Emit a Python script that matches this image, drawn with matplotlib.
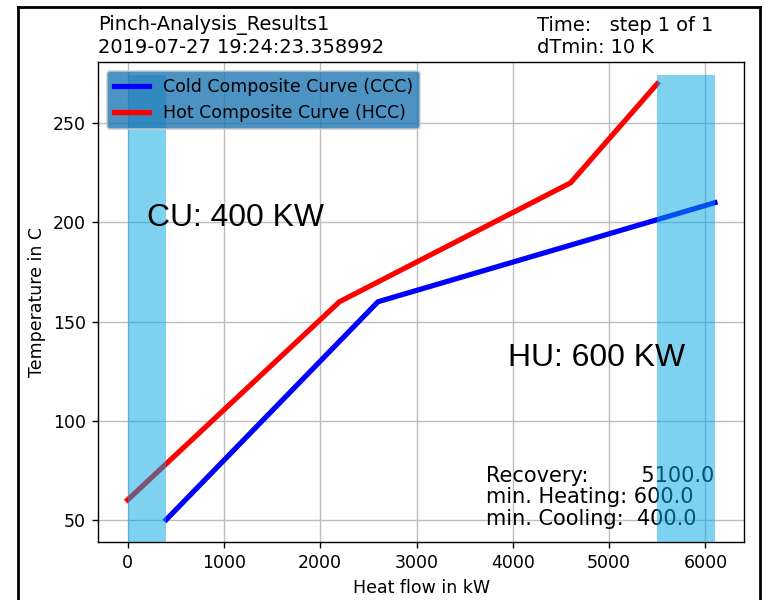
import matplotlib
matplotlib.use("Agg")
import matplotlib.pyplot as plt
from matplotlib.lines import Line2D

# composite curves (heat flow in kW, temperature in C)
cold_q = [400, 2600, 6100]
cold_t = [50, 160, 210]
hot_q = [0, 2200, 4600, 5500]
hot_t = [60, 160, 220, 270]

cu = 400        # min. cooling
hu = 600        # min. heating
recovery = 5100

title_left = "Pinch-Analysis_Results1\n2019-07-27 19:24:23.358992"
title_right = "Time:   step 1 of 1\ndTmin: 10 K"


def main():
    fig = plt.figure(figsize=(6.12, 4.8), dpi=125)
    ax = fig.add_axes([0.1285, 0.0975, 0.8445, 0.7992])

    ax.plot(cold_q, cold_t, color="blue", lw=3, label="Cold Composite Curve (CCC)")
    ax.plot(hot_q, hot_t, color="red", lw=3, label="Hot Composite Curve (HCC)")

    # utility bands
    ax.axvspan(hot_q[0], hot_q[0] + cu, ymax=0.973, color="#00a5e3",
               alpha=0.5, lw=0, zorder=4)
    ax.axvspan(cold_q[-1] - hu, cold_q[-1], ymax=0.973, color="#00a5e3",
               alpha=0.5, lw=0, zorder=4)

    ax.grid(True, color="#bdbdbd")
    ax.set_xlabel("Heat flow in kW")
    ax.set_ylabel("Temperature in C")

    ax.text(0.0, 1.01, title_left, transform=ax.transAxes, fontsize=11.2,
            ha="left", va="bottom")
    ax.text(0.679, 1.01, title_right, transform=ax.transAxes, fontsize=11.2,
            ha="left", va="bottom")

    summary = ("Recovery:        %.1f\nmin. Heating: %.1f\nmin. Cooling:  %.1f"
               % (recovery, hu, cu))
    ax.text(0.6, 0.026, summary, transform=ax.transAxes, fontsize=12,
            linespacing=1.1, ha="left", va="bottom", zorder=3)

    ax.text(200, 198, "CU: %d KW" % cu, fontsize=18.4, family="Liberation Sans",
            va="baseline", zorder=6)
    ax.text(3950, 127.5, "HU: %d KW" % hu, fontsize=18.4, family="Liberation Sans",
            va="baseline", zorder=6)

    ax.legend(loc="upper left", facecolor="C0", framealpha=0.8)

    # slide frame around the screenshot
    for xs, ys in [((18 / 765, 18 / 765), (-0.1, 1 - 7 / 600)),
                   ((18 / 765, 760 / 765), (1 - 7 / 600, 1 - 7 / 600)),
                   ((760 / 765, 760 / 765), (-0.1, 1 - 7 / 600))]:
        fig.add_artist(Line2D(xs, ys, color="black", lw=1.6,
                              transform=fig.transFigure))

    fig.savefig("out.png", dpi=125)


if __name__ == "__main__":
    main()
